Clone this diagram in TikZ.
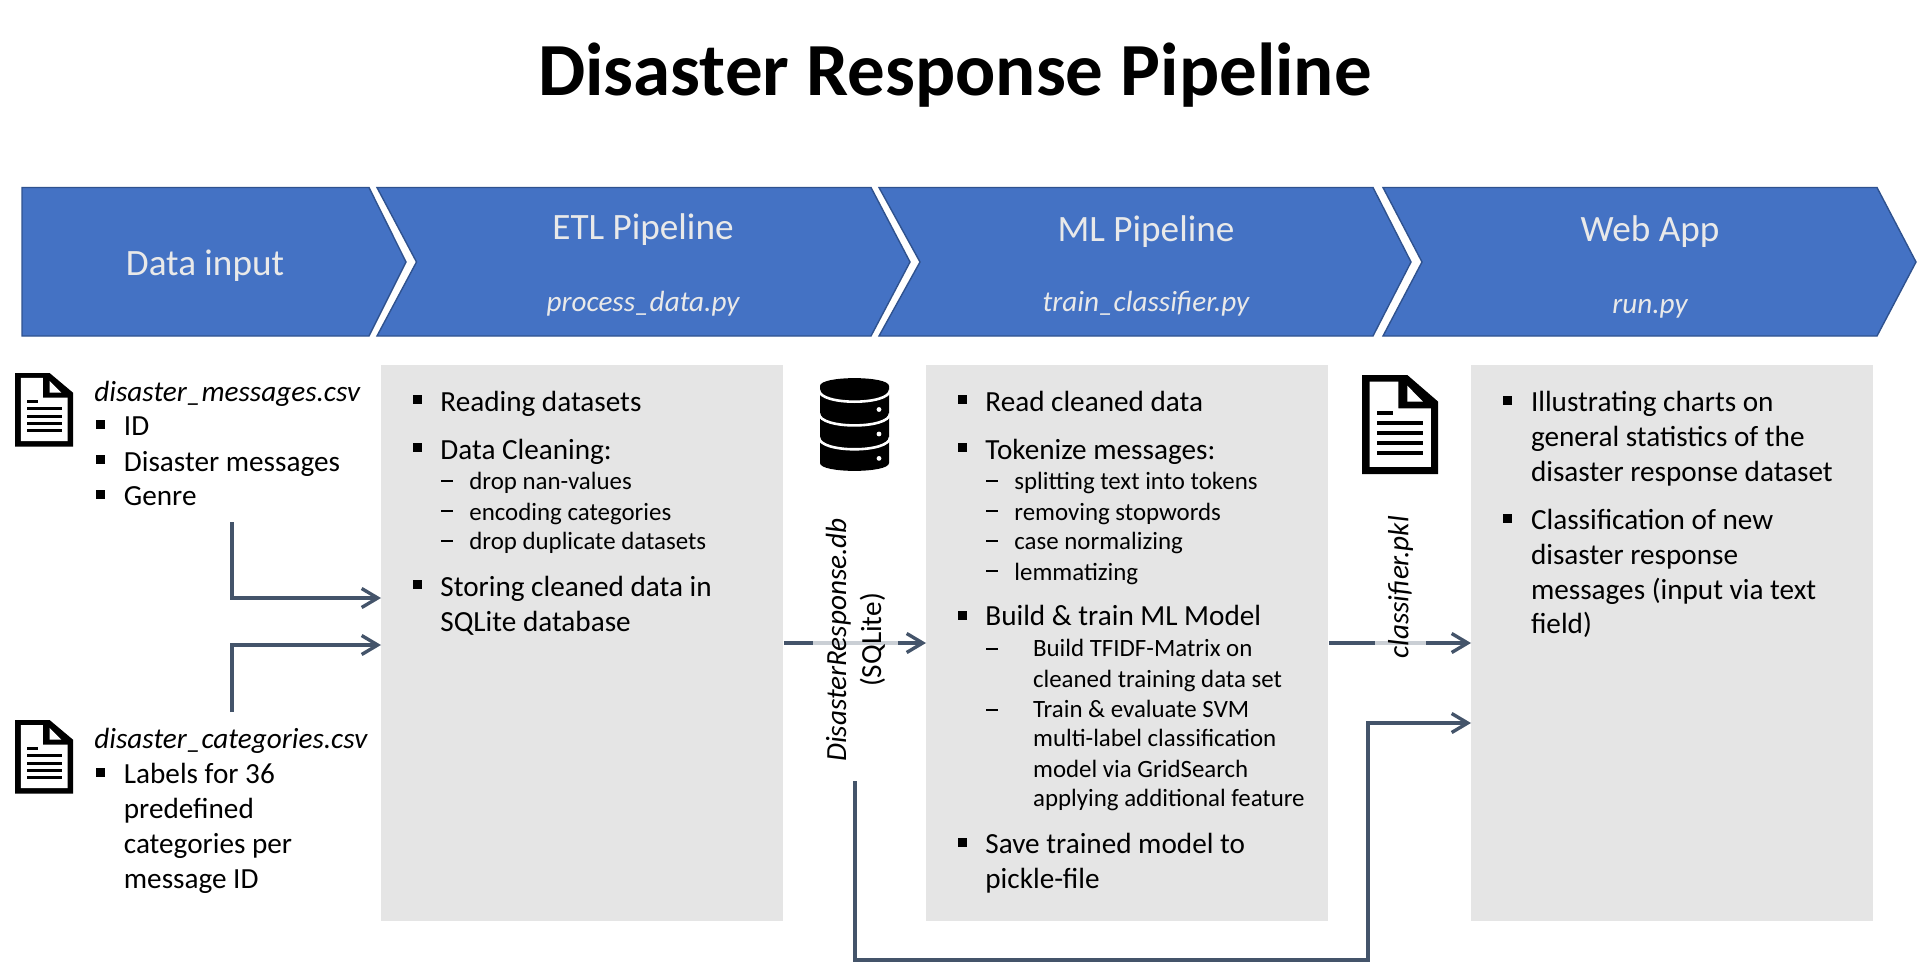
\documentclass[tikz,border=0pt]{standalone}
\usepackage{fontspec}
\setmainfont{Carlito}
\usetikzlibrary{arrows.meta}
\definecolor{chevfill}{HTML}{4472C4}
\definecolor{chevedge}{HTML}{2F528F}
\definecolor{boxgray}{HTML}{E5E5E5}
\definecolor{connclr}{HTML}{44546A}
\definecolor{chevtext}{HTML}{E9E9E9}
\newcommand{\fmain}{\fontsize{14.6}{17.5}\selectfont}
\newcommand{\fsub}{\fontsize{12.45}{15}\selectfont}
\newcommand{\fhead}{\fontsize{18.6}{22}\selectfont}
\newcommand{\bulsq}[2]{\fill[black] (#1-4.3,#2-4.5) rectangle (#1+4.3,#2+4.5);}
\newcommand{\dashmk}[3]{\fill[black] (#1,#3-0.7) rectangle (#2,#3+0.7);}
\newcommand{\docicon}[4]{%
\begin{scope}[shift={(#1,#2)},x=#3*0.5pt,y=-#4*0.5pt]
\fill[black] (0,0)--(.596,0)--(1,.268)--(1,1)--(0,1)--cycle;
\fill[white] (.1,.068)--(.48,.068)--(.48,.336)--(.906,.336)--(.906,.928)--(.1,.928)--cycle;
\fill[white] (.596,.108)--(.596,.268)--(.80,.268)--cycle;
\fill[black] (.199,.368) rectangle (.403,.408);
\foreach \yy in {.468,.568,.668,.768} \fill[black] (.199,\yy) rectangle (.807,\yy+.04);
\end{scope}}
\tikzset{
 chevron/.style={fill=chevfill,draw=chevedge,line width=0.7pt,line join=miter},
 boxnode/.style={fill=boxgray,draw=none,inner sep=0,minimum height=278pt,anchor=north west},
 conn/.style={draw=connclr,line width=2pt,-{Straight Barb[length=8pt,width=9.5pt,line width=1.7pt]}},
 line/.style={anchor=base west,inner sep=0,font=\fmain,text=black,yshift=-0.5pt},
 subline/.style={anchor=base west,inner sep=0,font=\fsub,text=black,yshift=-0.25pt},
 filename/.style={line,font=\fmain\itshape},
 chevhead/.style={anchor=base,inner sep=0,font=\fhead,text=chevtext,yshift=-1pt},
 chevsub/.style={anchor=base,inner sep=0,font=\fmain\itshape,text=chevtext,yshift=-1pt},
 veil/.style={fill=white,fill opacity=.72,text opacity=1,inner sep=0,rotate=90,align=center,font=\fmain,text=black}
}
\begin{document}
\begin{tikzpicture}[x=0.5pt,y=-0.5pt]
\useasboundingbox (0,0) rectangle (1918,963);
% title
\node[anchor=base,inner sep=0,font=\fontsize{37.5}{44}\selectfont\bfseries,text=black] (title) at (955,95.5) {Disaster Response Pipeline};
% chevrons
\path[chevron] (22,187.5)--(369,187.5)--(406,262)--(369,336)--(22,336)--cycle;
\path[chevron] (377,187.5)--(871,187.5)--(910,262)--(871,336)--(377,336)--(416.5,262)--cycle;
\path[chevron] (879,187.5)--(1373,187.5)--(1411,262)--(1373,336)--(879,336)--(920,262)--cycle;
\path[chevron] (1383,187.5)--(1877,187.5)--(1916,262)--(1877,336)--(1383,336)--(1422,262)--cycle;
\node[chevhead] (hdata) at (205,273) {Data input};
\node[chevhead] (hetl) at (643,238) {ETL Pipeline};
\node[chevsub] (setl) at (643,309) {process\_data.py};
\node[chevhead] (hml) at (1146,240) {ML Pipeline};
\node[chevsub] (sml) at (1146,309) {train\_classifier.py};
\node[chevhead] (hweb) at (1650,240) {Web App};
\node[chevsub] (sweb) at (1650,311) {run.py};
% boxes
\node[boxnode,minimum width=201pt] (etl) at (381,365) {};
\node[boxnode,minimum width=201pt] (ml) at (926,365) {};
\node[boxnode,minimum width=201pt] (app) at (1471,365) {};
% free ends
\coordinate (msgout) at (232,522);
\coordinate (msgin) at (381,598);
\coordinate (catout) at (232,712);
\coordinate (catin) at (381,645);
\coordinate (midrow) at (381,643);
\coordinate (dbout) at (855,781);
\coordinate (lowrow) at (855,960);
\coordinate (kink) at (1367.5,960);
\coordinate (appin) at (1471,723);
% connectors
\draw[conn] (msgout) |- (etl.west |- msgin);
\draw[conn] (catout) |- (etl.west |- catin);
\draw[conn] (etl.east |- midrow) -- (ml.west |- midrow);
\draw[conn] (ml.east |- midrow) -- (app.west |- midrow);
% icons
\docicon{15}{373}{58}{73.5}
\docicon{15}{720}{58}{73.5}
\docicon{1362}{375}{76}{99}
% database
\fill[black] (820,386) .. controls (820,375.5) and (889,375.5) .. (889,386) -- (889,463) .. controls (889,473.5) and (820,473.5) .. (820,463) -- cycle;
\foreach \ya/\yc in {390/405.6,413.5/429.4,437.3/453.3}
  \draw[white,line width=1.3pt] (819,\ya) .. controls (819,\yc) and (890,\yc) .. (890,\ya);
\foreach \yd in {409.5,434,458.4} \fill[white] (879,\yd) circle[radius=2.4];
% rotated labels
\node[veil,minimum width=131pt,minimum height=42.5pt] (dblabel) at (855.5,640) {\itshape DisasterResponse.db\\(SQLite)};
\node[veil,minimum width=135pt,minimum height=25.5pt,inner xsep=3pt,text width=129pt,align=right] (pkllabel) at (1400.5,645) {\itshape classifier.pkl};
% connector that passes in front of the veil
\draw[conn] (dbout) -- (lowrow) -- (kink) |- (appin);
% left column
\node[filename] (f1) at (94,400) {disaster\_messages.csv};
\bulsq{100.5}{424}\node[line] (l1) at (123.5,434.5) {ID};
\bulsq{100.5}{459}\node[line] (l2) at (123.5,470) {Disaster messages};
\bulsq{100.5}{494}\node[line] (l3) at (123.5,504.5) {Genre};
\node[filename] (f2) at (94,747) {disaster\_categories.csv};
\bulsq{100.5}{772}\node[line] (l4) at (123.5,782) {Labels for 36};
\node[line] (l5) at (123.5,817) {predefined};
\node[line] (l6) at (123.5,852.5) {categories per};
\node[line] (l7) at (123.5,887.5) {message ID};
% ETL box
\bulsq{417.5}{399.6}\node[line] (e1) at (440,410) {Reading datasets};
\bulsq{417.5}{447}\node[line] (e2) at (440,458) {Data Cleaning:};
\dashmk{441}{453}{481}\node[subline] (e3) at (469,489) {drop nan-values};
\dashmk{441}{453}{511}\node[subline] (e4) at (469,519.6) {encoding categories};
\dashmk{441}{453}{541}\node[subline] (e5) at (469,549.4) {drop duplicate datasets};
\bulsq{417.5}{584}\node[line] (e6) at (440,595) {Storing cleaned data in};
\node[line] (e7) at (440,630) {SQLite database};
% ML box
\bulsq{962.5}{399.6}\node[line] (m1) at (985,410) {Read cleaned data};
\bulsq{962.5}{447}\node[line] (m2) at (985,458) {Tokenize messages:};
\dashmk{986}{998}{481}\node[subline] (m3) at (1014,489) {splitting text into tokens};
\dashmk{986}{998}{511}\node[subline] (m4) at (1014,519.6) {removing stopwords};
\dashmk{986}{998}{541}\node[subline] (m5) at (1014,549.4) {case normalizing};
\dashmk{986}{998}{571}\node[subline] (m6) at (1014,579.6) {lemmatizing};
\bulsq{962.5}{615}\node[line] (m7) at (985,624.5) {Build \& train ML Model};
\dashmk{986}{998}{649}\node[subline] (m8) at (1032.7,656) {Build TFIDF-Matrix on};
\node[subline] (m9) at (1032.7,686.5) {cleaned training data set};
\dashmk{986}{998}{710}\node[subline] (m10) at (1032.7,716.6) {Train \& evaluate SVM};
\node[subline] (m11) at (1032.7,746.4) {multi-label classification};
\node[subline] (m12) at (1032.7,776.6) {model via GridSearch};
\node[subline] (m13) at (1032.7,806.4) {applying additional feature};
\bulsq{962.5}{842.6}\node[line] (m14) at (985,852.5) {Save trained model to};
\node[line] (m15) at (985,887.5) {pickle-file};
% App box
\bulsq{1507.5}{400}\node[line] (a1) at (1530.6,410) {Illustrating charts on};
\node[line] (a2) at (1530.6,445) {general statistics of the};
\node[line] (a3) at (1530.6,480) {disaster response dataset};
\bulsq{1507.5}{518}\node[line] (a4) at (1530.6,528) {Classification of new};
\node[line] (a5) at (1530.6,563) {disaster response};
\node[line] (a6) at (1530.6,598) {messages (input via text};
\node[line] (a7) at (1530.6,632) {field)};
\end{tikzpicture}
\end{document}
